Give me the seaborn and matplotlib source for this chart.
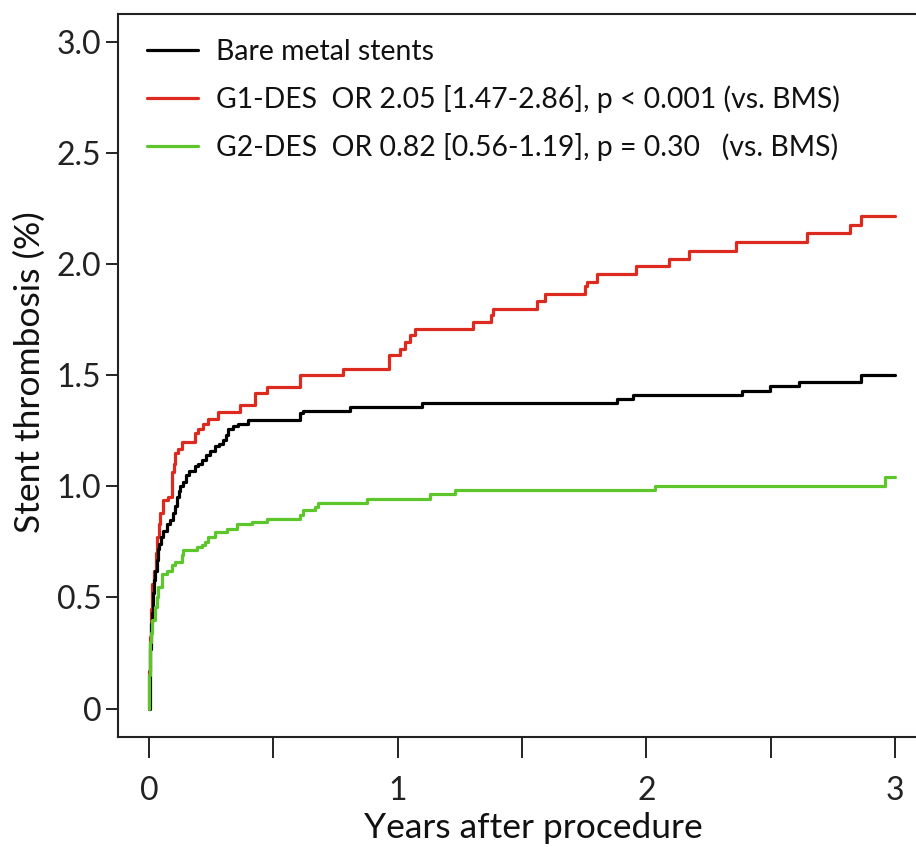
import numpy as np
import pandas as pd
import matplotlib
matplotlib.use("Agg")
import matplotlib.pyplot as plt
import seaborn as sns

# ---- data ----
bms_t = [0.0, 0.002, 0.004, 0.0068, 0.011, 0.014, 0.018, 0.024, 0.030, 0.036, 0.040,
         0.048, 0.056, 0.071, 0.084, 0.095, 0.105, 0.113, 0.119, 0.125, 0.137, 0.149,
         0.161, 0.185, 0.197, 0.212, 0.229, 0.245, 0.265, 0.281, 0.299, 0.310, 0.319,
         0.338, 0.359, 0.399, 0.607, 0.619, 0.808, 1.099, 1.881, 1.948, 2.384, 2.496,
         2.614, 2.862, 3.0]
bms_y = [0.0, 0.10, 0.27, 0.38, 0.43, 0.52, 0.58, 0.62, 0.67, 0.72, 0.74,
         0.77, 0.80, 0.83, 0.85, 0.88, 0.91, 0.95, 0.98, 1.00, 1.02, 1.05,
         1.07, 1.09, 1.10, 1.12, 1.14, 1.16, 1.18, 1.19, 1.21, 1.23, 1.26,
         1.27, 1.28, 1.30, 1.33, 1.34, 1.357, 1.375, 1.395, 1.41, 1.43, 1.45,
         1.47, 1.50, 1.50]

g1_t = [0.0, 0.001, 0.004, 0.008, 0.012, 0.018, 0.026, 0.031, 0.038, 0.044, 0.058,
        0.076, 0.091, 0.099, 0.105, 0.117, 0.131, 0.185, 0.197, 0.218, 0.238, 0.279,
        0.366, 0.426, 0.473, 0.607, 0.780, 0.966, 1.009, 1.030, 1.050, 1.070, 1.303,
        1.375, 1.383, 1.559, 1.592, 1.753, 1.761, 1.800, 1.958, 2.090, 2.171, 2.360,
        2.648, 2.821, 2.865, 3.0]
g1_y = [0.0, 0.17, 0.32, 0.45, 0.56, 0.62, 0.70, 0.77, 0.83, 0.88, 0.937,
        0.95, 1.065, 1.10, 1.148, 1.17, 1.20, 1.24, 1.26, 1.28, 1.305, 1.335,
        1.365, 1.42, 1.447, 1.50, 1.53, 1.59, 1.617, 1.65, 1.68, 1.71, 1.74,
        1.77, 1.80, 1.835, 1.868, 1.90, 1.92, 1.958, 1.99, 2.025, 2.06, 2.098,
        2.139, 2.178, 2.218, 2.218]

g2_t = [0.0, 0.001, 0.004, 0.008, 0.012, 0.024, 0.030, 0.036, 0.051, 0.071, 0.091,
        0.105, 0.131, 0.138, 0.192, 0.212, 0.225, 0.238, 0.265, 0.312, 0.353, 0.413,
        0.473, 0.607, 0.621, 0.668, 0.681, 0.875, 1.130, 1.231, 2.035, 2.960, 3.0]
g2_y = [0.0, 0.15, 0.30, 0.34, 0.40, 0.456, 0.50, 0.546, 0.607, 0.62, 0.644,
        0.659, 0.689, 0.712, 0.727, 0.734, 0.75, 0.772, 0.795, 0.81, 0.829, 0.839,
        0.854, 0.87, 0.892, 0.907, 0.925, 0.944, 0.964, 0.982, 1.001, 1.04, 1.04]

labels = ["Bare metal stents",
          "G1-DES  OR 2.05 [1.47-2.86], p < 0.001 (vs. BMS)",
          "G2-DES  OR 0.82 [0.56-1.19], p = 0.30   (vs. BMS)"]
colors = ["#000000", "#dc2a1f", "#5cc62b"]
x_ticks = [0, 0.5, 1, 1.5, 2, 2.5, 3]
x_ticklabels = ["0", "", "1", "", "2", "", "3"]
y_ticks = [0, 0.5, 1.0, 1.5, 2.0, 2.5, 3.0]
y_ticklabels = ["0", "0.5", "1.0", "1.5", "2.0", "2.5", "3.0"]

df = pd.concat([
    pd.DataFrame({"t": bms_t, "y": bms_y, "grp": labels[0]}),
    pd.DataFrame({"t": g1_t, "y": g1_y, "grp": labels[1]}),
    pd.DataFrame({"t": g2_t, "y": g2_y, "grp": labels[2]}),
])

sns.set_style("white")
plt.rcParams["font.family"] = ["Lato", "DejaVu Sans"]

W, H = 916, 847
fig = plt.figure(figsize=(W / 100, H / 100), dpi=100)
left, right, top, bottom = 118, 926, 14, 737
ax = fig.add_axes([left / W, (H - bottom) / H, (right - left) / W, (bottom - top) / H])

palette = dict(zip(labels, colors))
order = [labels[1], labels[0], labels[2]]
for g in order:
    sub = df[df["grp"] == g]
    sns.lineplot(data=sub, x="t", y="y", color=palette[g], ax=ax,
                 drawstyle="steps-post", estimator=None, sort=True,
                 linewidth=2.3, label=g)

ax.set_xlim(-0.125, 3.125)
ax.set_ylim(-0.128, 3.126)
ax.set_xticks(x_ticks)
ax.set_xticklabels(x_ticklabels)
ax.set_yticks(y_ticks)
ax.set_yticklabels(y_ticklabels)

for s in ax.spines.values():
    s.set_visible(True)
    s.set_linewidth(1.5)
    s.set_color("#222222")

ax.tick_params(axis="x", direction="out", length=15, width=1.4, pad=13,
               labelsize=23, colors="#222222", bottom=True)
ax.tick_params(axis="y", direction="out", length=9, width=1.4, pad=3,
               labelsize=23, colors="#222222", left=True)

ax.set_xlabel("Years after procedure", fontsize=25.5, color="#111111")
ax.set_ylabel("Stent thrombosis (%)", fontsize=25.5, color="#111111")
ax.xaxis.set_label_coords((533 - left) / (right - left), -(828 - bottom) / (bottom - top))
ax.yaxis.set_label_coords(-(left - 30) / (right - left), 0.505)
ax.xaxis.label.set_va("center")
ax.yaxis.label.set_va("center")

handles = {l.get_label(): l for l in ax.get_lines()}
leg = ax.legend([handles[l] for l in labels], labels, loc="upper left",
                bbox_to_anchor=((147 - left) / (right - left), 1 - (39 - top) / (bottom - top)),
                frameon=False, fontsize=20.4, handlelength=1.8, handletextpad=0.62,
                labelspacing=0.70, borderaxespad=0, borderpad=0)
for t in leg.get_texts():
    t.set_color("#111111")

fig.savefig("out.png", dpi=100)
